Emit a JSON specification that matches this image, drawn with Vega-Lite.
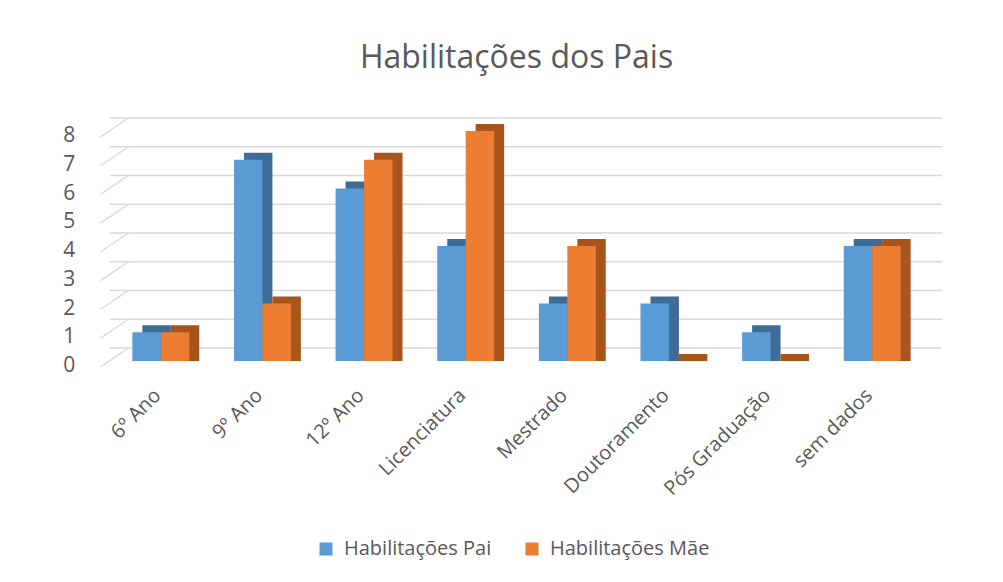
{
  "$schema": "https://vega.github.io/schema/vega-lite/v6.json",
  "width": 813,
  "height": 230,
  "autosize": "none",
  "padding": {"left": 110, "top": 131, "right": 80, "bottom": 221},
  "background": "white",
  "title": {
    "text": "Habilitações dos Pais",
    "font": "Open Sans",
    "fontSize": 32,
    "fontWeight": "normal",
    "color": "#595959",
    "anchor": "middle",
    "offset": 42
  },
  "datasets": {
    "bars": [
      {"cat": "6º Ano", "series": "Habilitações Pai", "value": 1},
      {"cat": "6º Ano", "series": "Habilitações Mãe", "value": 1},
      {"cat": "9º Ano", "series": "Habilitações Pai", "value": 7},
      {"cat": "9º Ano", "series": "Habilitações Mãe", "value": 2},
      {"cat": "12º Ano", "series": "Habilitações Pai", "value": 6},
      {"cat": "12º Ano", "series": "Habilitações Mãe", "value": 7},
      {"cat": "Licenciatura", "series": "Habilitações Pai", "value": 4},
      {"cat": "Licenciatura", "series": "Habilitações Mãe", "value": 8},
      {"cat": "Mestrado", "series": "Habilitações Pai", "value": 2},
      {"cat": "Mestrado", "series": "Habilitações Mãe", "value": 4},
      {"cat": "Doutoramento", "series": "Habilitações Pai", "value": 2},
      {"cat": "Doutoramento", "series": "Habilitações Mãe", "value": 0},
      {"cat": "Pós Graduação", "series": "Habilitações Pai", "value": 1},
      {"cat": "Pós Graduação", "series": "Habilitações Mãe", "value": 0},
      {"cat": "sem dados", "series": "Habilitações Pai", "value": 4},
      {"cat": "sem dados", "series": "Habilitações Mãe", "value": 4}
    ],
    "grid": [{"v": 0}, {"v": 1}, {"v": 2}, {"v": 3}, {"v": 4}, {"v": 5}, {"v": 6}, {"v": 7}, {"v": 8}]
  },
  "layer": [
    {
      "data": {"name": "grid"},
      "mark": {"type": "rule", "color": "#D9D9D9", "strokeWidth": 1.5, "yOffset": -13, "xOffset": 19},
      "encoding": {
        "y": {
          "field": "v", "type": "quantitative",
          "scale": {"domain": [0, 8], "nice": false},
          "axis": null
        }
      }
    },
    {
      "data": {"name": "grid"},
      "mark": {"type": "rule", "color": "#D9D9D9", "strokeWidth": 1.5, "xOffset": -32, "x2Offset": -4, "yOffset": 6, "y2Offset": -13},
      "encoding": {
        "x": {"datum": "6º Ano", "type": "nominal", "bandPosition": 0,
              "sort": ["6º Ano", "9º Ano", "12º Ano", "Licenciatura", "Mestrado", "Doutoramento", "Pós Graduação", "sem dados"]},
        "x2": {"datum": "6º Ano", "bandPosition": 0},
        "y": {"field": "v", "type": "quantitative", "axis": null},
        "y2": {"field": "v"}
      }
    },
    {
      "data": {"name": "grid"},
      "mark": {"type": "text", "align": "right", "baseline": "middle", "xOffset": -57, "yOffset": 5,
               "font": "Open Sans", "fontSize": 21, "color": "#595959"},
      "encoding": {
        "x": {"datum": "6º Ano", "type": "nominal", "bandPosition": 0,
              "sort": ["6º Ano", "9º Ano", "12º Ano", "Licenciatura", "Mestrado", "Doutoramento", "Pós Graduação", "sem dados"]},
        "y": {"field": "v", "type": "quantitative", "axis": null},
        "text": {"field": "v", "type": "quantitative"}
      }
    },
    {
      "data": {"name": "bars"},
      "mark": {"type": "bar", "yOffset": -7, "y2Offset": 0},
      "encoding": {
        "x": {"field": "cat", "type": "nominal",
              "sort": ["6º Ano", "9º Ano", "12º Ano", "Licenciatura", "Mestrado", "Doutoramento", "Pós Graduação", "sem dados"]},
        "xOffset": {"field": "series", "sort": ["Habilitações Pai", "Habilitações Mãe"], "scale": {"range": [10, 66.9]}},
        "y": {"field": "value", "type": "quantitative", "axis": null},
        "y2": {"datum": 0},
        "color": {
          "field": "series", "type": "nominal",
          "sort": ["Habilitações Pai", "Habilitações Mãe"],
          "scale": {"range": ["#3F6C96", "#A8541D"]},
          "legend": null
        }
      }
    },
    {
      "data": {"name": "bars"},
      "mark": {"type": "bar"},
      "encoding": {
        "x": {
          "field": "cat", "type": "nominal",
          "sort": ["6º Ano", "9º Ano", "12º Ano", "Licenciatura", "Mestrado", "Doutoramento", "Pós Graduação", "sem dados"],
          "scale": {"paddingInner": 0.44, "paddingOuter": 0.22},
          "axis": {
            "title": null, "domain": false, "ticks": false, "grid": false,
            "labelAngle": -45, "labelAlign": "right", "labelBaseline": "middle",
            "labelPadding": 31, "labelOffset": -3, "labelFont": "Open Sans", "labelFontSize": 20,
            "labelColor": "#595959", "labelOverlap": false
          }
        },
        "xOffset": {"field": "series", "sort": ["Habilitações Pai", "Habilitações Mãe"]},
        "y": {"field": "value", "type": "quantitative", "axis": null},
        "color": {
          "field": "series", "type": "nominal",
          "sort": ["Habilitações Pai", "Habilitações Mãe"],
          "scale": {"range": ["#5B9BD5", "#ED7D31"]},
          "legend": {
            "title": null, "orient": "none", "direction": "horizontal",
            "legendX": 206, "legendY": 408,
            "symbolType": "square", "symbolSize": 169, "symbolStrokeWidth": 0,
            "labelFont": "Open Sans", "labelFontSize": 20, "labelColor": "#595959",
            "labelOffset": 8, "columnPadding": 30, "padding": 0
          }
        }
      }
    }
  ],
  "resolve": {"scale": {"color": "independent", "xOffset": "independent"}},
  "config": {"view": {"stroke": null}}
}
